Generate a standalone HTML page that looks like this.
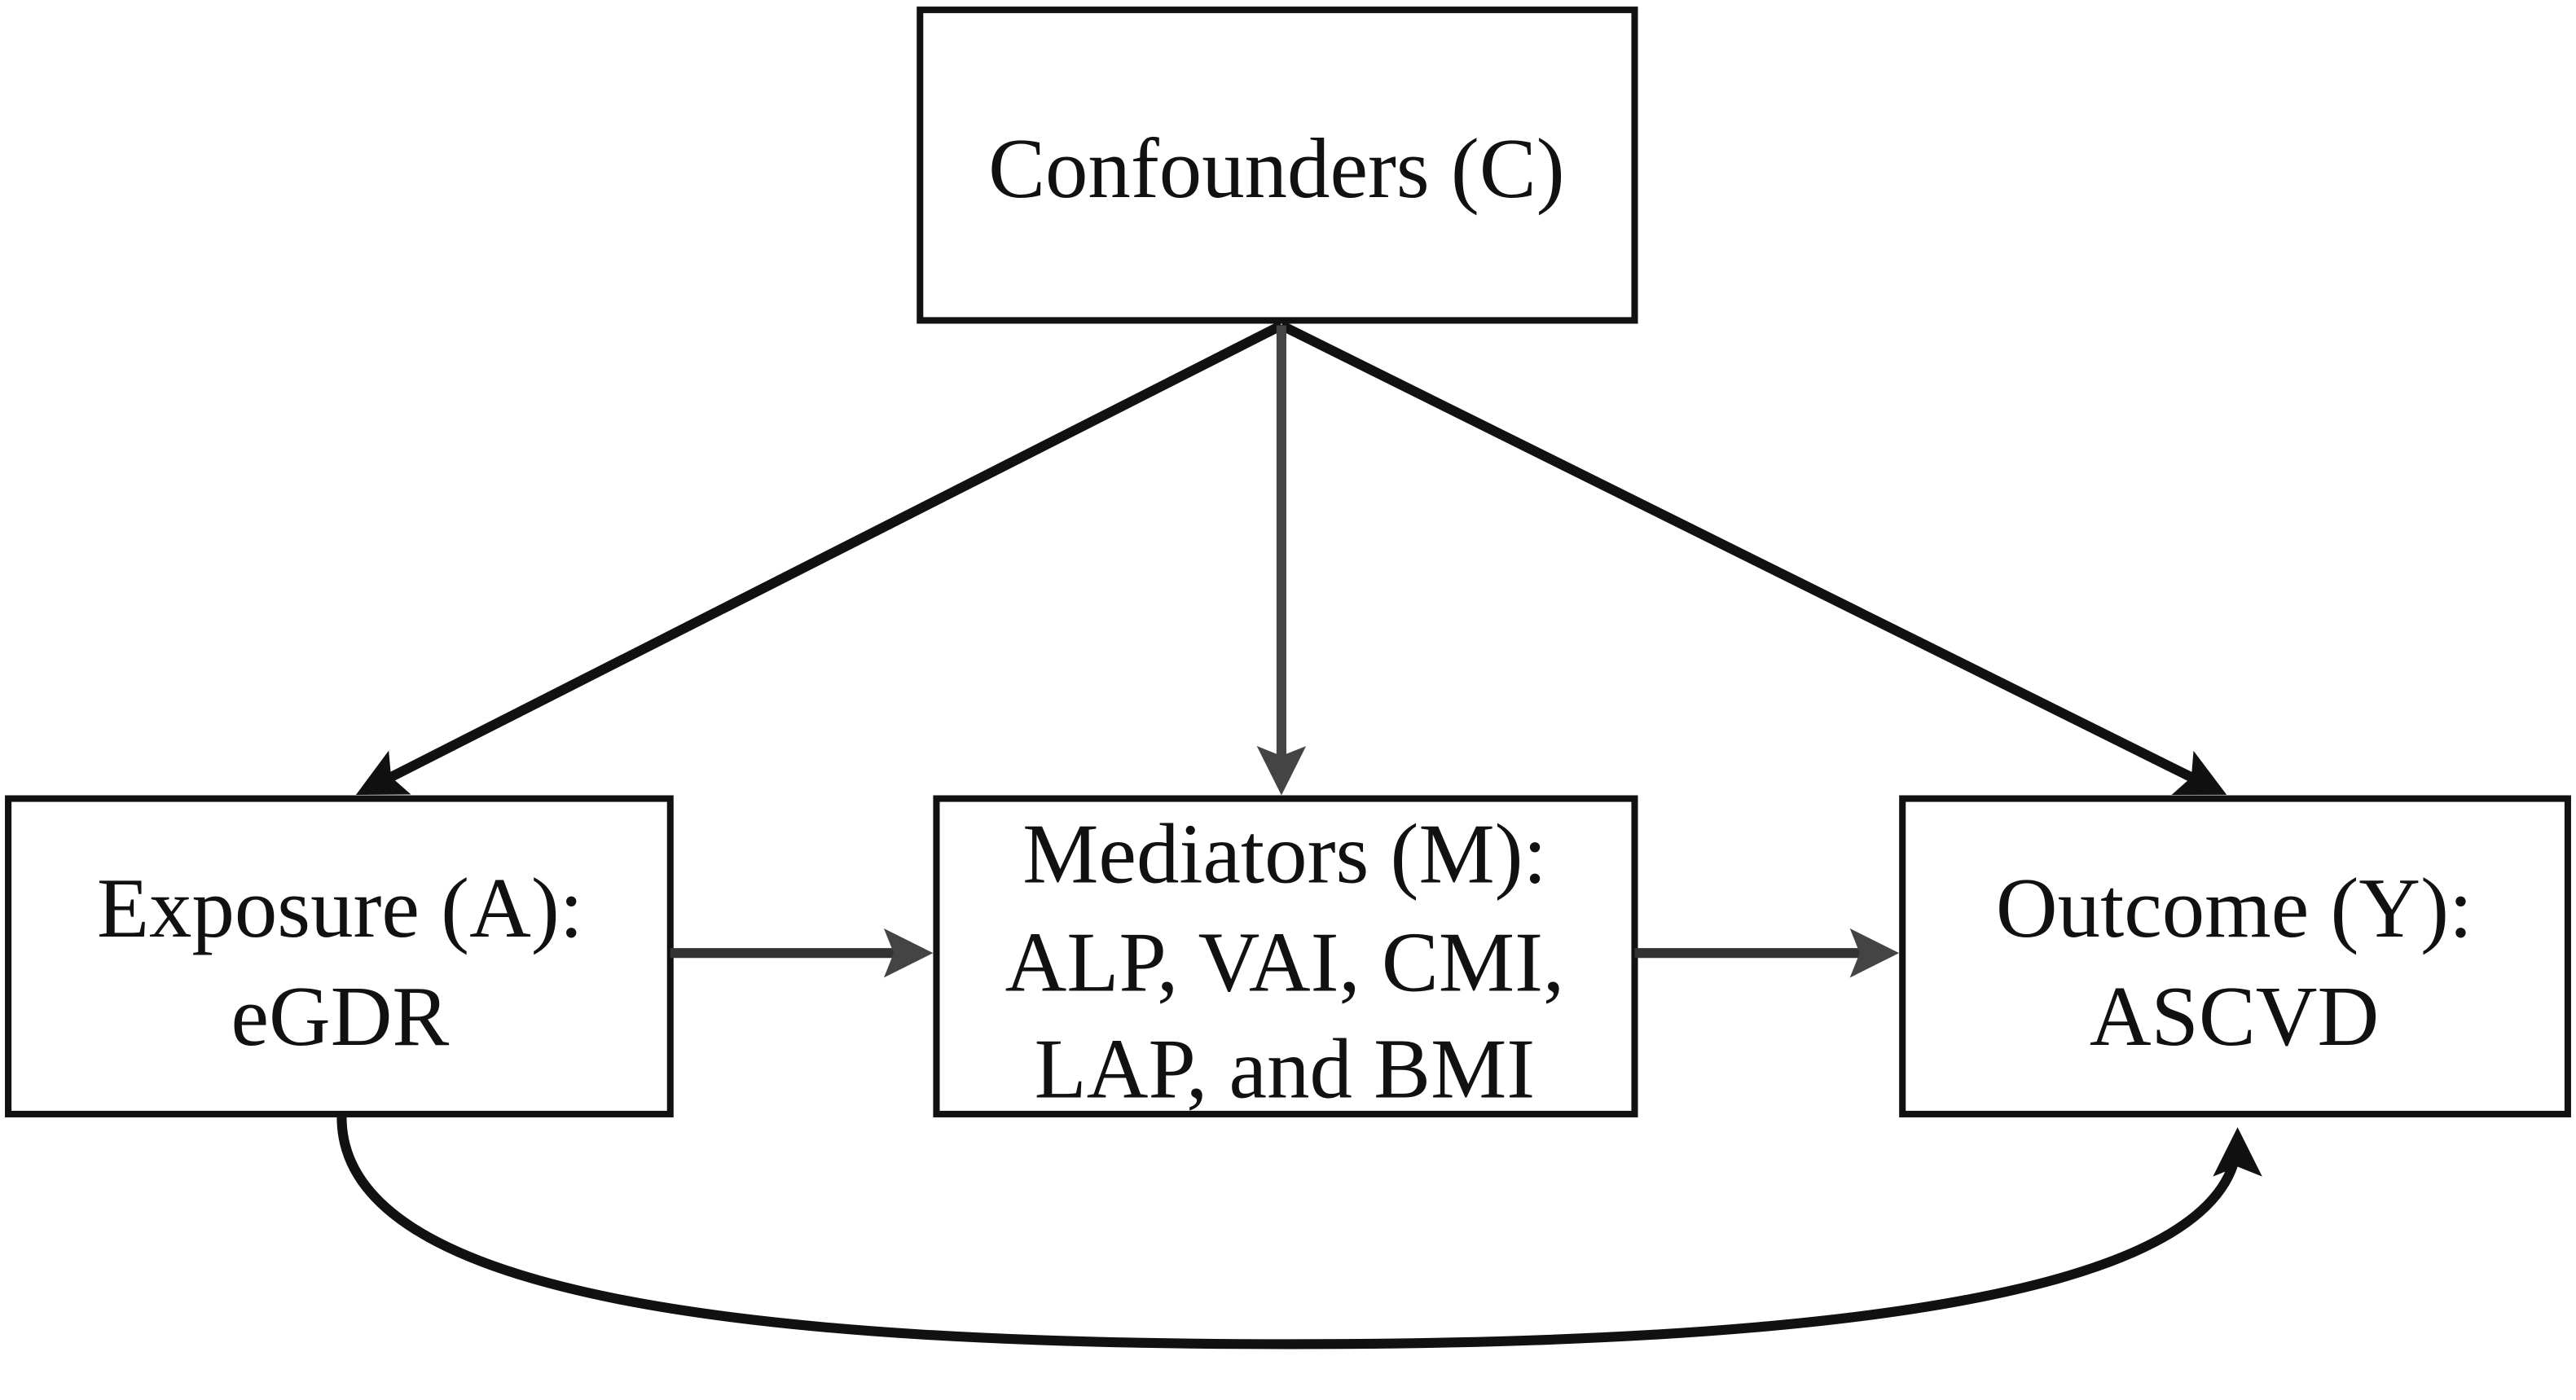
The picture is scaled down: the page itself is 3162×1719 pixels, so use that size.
<!DOCTYPE html>
<html><head><style>
html,body{margin:0;padding:0;background:#fff;}
svg{display:block;}
text{font-family:"Liberation Serif",serif;font-size:52px;fill:#111;text-anchor:middle;}
</style></head><body>
<svg width="3162" height="1719" viewBox="0 0 1568 852" preserveAspectRatio="none" xmlns="http://www.w3.org/2000/svg">
<defs>
<marker id="ah" markerWidth="5" markerHeight="5" refX="4" refY="2.5" orient="auto" markerUnits="strokeWidth">
<path d="M0,0 L5,2.5 L0,5 L1,2.5 z" fill="#111"/>
</marker>
<marker id="ahg" markerWidth="5" markerHeight="5" refX="4" refY="2.5" orient="auto" markerUnits="strokeWidth">
<path d="M0,0 L5,2.5 L0,5 L1,2.5 z" fill="#444"/>
</marker>
</defs>
<g fill="none" stroke="#111" stroke-width="4">
<rect x="560" y="6" width="435" height="189"/>
<rect x="5" y="486" width="403" height="192"/>
<rect x="570" y="486" width="425" height="192"/>
<rect x="1158" y="486" width="405" height="192"/>
</g>
<g stroke="#111" stroke-width="6" fill="none">
<line x1="780" y1="198" x2="222" y2="481" marker-end="url(#ah)"/>
<line x1="780" y1="198" x2="1350" y2="481" marker-end="url(#ah)"/>
<line x1="408" y1="580" x2="562" y2="580" stroke="#333" marker-end="url(#ahg)"/>
<line x1="995" y1="580" x2="1150" y2="580" stroke="#333" marker-end="url(#ahg)"/>
<path d="M208,680 C208,790 460,818 785,818 C1130,818 1362,785 1362,692" marker-end="url(#ah)"/>
</g>
<line x1="780" y1="198" x2="780" y2="478" stroke="#444" stroke-width="6" marker-end="url(#ahg)"/>
<text x="777" y="120">Confounders (C)</text>
<text x="207" y="570">Exposure (A):</text>
<text x="207" y="636">eGDR</text>
<text x="782" y="537">Mediators (M):</text>
<text x="782" y="603">ALP,  VAI, CMI,</text>
<text x="782" y="668">LAP, and BMI</text>
<text x="1360" y="570">Outcome (Y):</text>
<text x="1360" y="636">ASCVD</text>
</svg>
</body></html>
